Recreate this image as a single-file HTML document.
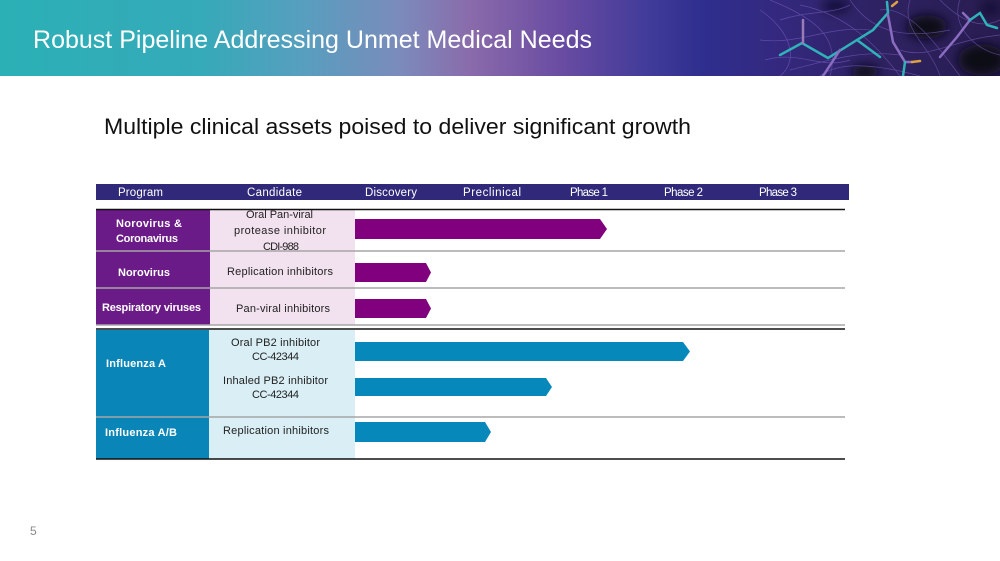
<!DOCTYPE html>
<html>
<head>
<meta charset="utf-8">
<style>
html,body{margin:0;padding:0;background:#fff;}
svg{display:block;}
text{font-family:"Liberation Sans",Arial,sans-serif;}
</style>
</head>
<body>
<svg width="1000" height="561" viewBox="0 0 1000 561" xmlns="http://www.w3.org/2000/svg">
  <defs>
    <linearGradient id="ban" x1="0" y1="0" x2="1000" y2="0" gradientUnits="userSpaceOnUse">
      <stop offset="0" stop-color="#2bb0b6"/>
      <stop offset="0.2" stop-color="#35aab8"/>
      <stop offset="0.3" stop-color="#569fbe"/>
      <stop offset="0.4" stop-color="#7b8bbb"/>
      <stop offset="0.47" stop-color="#8a6bab"/>
      <stop offset="0.56" stop-color="#6a4ca2"/>
      <stop offset="0.65" stop-color="#403b99"/>
      <stop offset="0.7" stop-color="#2f2f8f"/>
      <stop offset="0.78" stop-color="#34287e"/>
      <stop offset="0.88" stop-color="#2e2262"/>
      <stop offset="1" stop-color="#281c50"/>
    </linearGradient>
    <filter id="blur" x="-50%" y="-50%" width="200%" height="200%">
      <feGaussianBlur stdDeviation="5"/>
    </filter>
    <clipPath id="bc"><rect x="0" y="0" width="1000" height="76"/></clipPath>
  </defs>

  <!-- Banner -->
  <rect x="0" y="0" width="1000" height="76" fill="url(#ban)"/>
  <g clip-path="url(#bc)">
    <g filter="url(#blur)" fill="#0a0814">
      <ellipse cx="927" cy="27" rx="20" ry="12"/>
      <ellipse cx="982" cy="60" rx="24" ry="16"/>
      <ellipse cx="865" cy="72" rx="14" ry="7"/>
      <ellipse cx="836" cy="6" rx="14" ry="7" opacity="0.6"/>
      <ellipse cx="990" cy="8" rx="10" ry="7" opacity="0.5"/>
    </g>
    <g fill="none" stroke="#7d62c4" stroke-width="0.7" opacity="0.6">
      <path d="M760 10 C790 30 800 60 780 76"/>
      <path d="M770 0 C820 20 840 40 830 76"/>
      <path d="M800 5 C850 15 880 50 900 76"/>
      <path d="M850 0 C870 30 900 40 950 30"/>
      <path d="M880 10 C910 5 940 50 960 76"/>
      <path d="M900 50 C930 60 950 40 1000 35"/>
      <path d="M760 40 C800 45 830 25 870 30"/>
      <path d="M790 70 C830 60 860 50 900 55"/>
      <path d="M940 0 C960 20 980 30 1000 20"/>
      <path d="M820 76 C840 60 880 65 920 76"/>
      <path d="M765 60 C800 50 820 70 850 60"/>
      <path d="M910 0 C900 30 930 45 940 76"/>
      <path d="M960 0 C950 25 975 50 1000 55"/>
      <path d="M780 20 C810 10 830 15 850 5"/>
    </g>
    <g fill="none" stroke-width="2.5" stroke-linecap="round">
      <path d="M780 55 L802 43 L828 58 L857 40 L880 57" stroke="#2fb3b8"/>
      <path d="M803 43 L803 20" stroke="#9a7bb8"/>
      <path d="M857 40 L873 30 L888 13 L887 2" stroke="#2fb3b8"/>
      <path d="M888 15 L893 42 L905 62 L912 62" stroke="#8a6cc0"/>
      <path d="M905 62 L903 76" stroke="#2fb3b8"/>
      <path d="M892 6 L897 2" stroke="#e0a040"/>
      <path d="M912 62 L920 61" stroke="#e0a040"/>
      <path d="M940 57 L957 37 L970 20 L963 13" stroke="#8a6cc0"/>
      <path d="M970 20 L980 13 L987 25 L997 28" stroke="#2fb3b8"/>
      <path d="M823 76 L840 50" stroke="#8a6cc0"/>
    </g>
  </g>
  <text x="33" y="48" font-size="25" fill="#ffffff" textLength="559" lengthAdjust="spacingAndGlyphs">Robust Pipeline Addressing Unmet Medical Needs</text>

  <!-- Subtitle -->
  <text x="104" y="134" font-size="22" fill="#111" textLength="587" lengthAdjust="spacingAndGlyphs">Multiple clinical assets poised to deliver significant growth</text>

  <!-- Header bar -->
  <rect x="96" y="184" width="753" height="16" fill="#30297a"/>
  <g font-size="11.5" fill="#ffffff">
    <text x="118" y="196" textLength="45" lengthAdjust="spacing">Program</text>
    <text x="247" y="196" textLength="55" lengthAdjust="spacing">Candidate</text>
    <text x="365" y="196" textLength="52" lengthAdjust="spacing">Discovery</text>
    <text x="463" y="196" textLength="58" lengthAdjust="spacing">Preclinical</text>
    <text x="570" y="196" textLength="38" lengthAdjust="spacing">Phase 1</text>
    <text x="664" y="196" textLength="39" lengthAdjust="spacing">Phase 2</text>
    <text x="759" y="196" textLength="38" lengthAdjust="spacing">Phase 3</text>
  </g>

  <!-- Purple section -->
  <rect x="96" y="209" width="114" height="116" fill="#6b1b87"/>
  <rect x="210" y="209" width="145" height="116" fill="#f2e1ef"/>

  <!-- Blue section -->
  <rect x="96" y="330" width="113" height="129" fill="#0a85b7"/>
  <rect x="209" y="330" width="146" height="129" fill="#d9eef5"/>

  <!-- Lines -->
  <g stroke-width="1.5">
    <line x1="96" y1="209.5" x2="845" y2="209.5" stroke="#111"/>
    <line x1="96" y1="251" x2="845" y2="251" stroke="#a6a6a6"/>
    <line x1="96" y1="288" x2="845" y2="288" stroke="#a6a6a6"/>
    <line x1="96" y1="325" x2="845" y2="325" stroke="#a6a6a6"/>
    <line x1="96" y1="329" x2="845" y2="329" stroke="#111"/>
    <line x1="96" y1="417" x2="845" y2="417" stroke="#a6a6a6"/>
    <line x1="96" y1="459" x2="845" y2="459" stroke="#111"/>
  </g>

  <!-- Purple bars -->
  <g fill="#81007d">
    <polygon points="355,219 600,219 607,229 600,239 355,239"/>
    <polygon points="355,263 426,263 431,272.5 426,282 355,282"/>
    <polygon points="355,299 426,299 431,308.5 426,318 355,318"/>
  </g>
  <!-- Blue bars -->
  <g fill="#0788bb">
    <polygon points="355,342 683,342 690,351.5 683,361 355,361"/>
    <polygon points="355,378 546,378 552,387 546,396 355,396"/>
    <polygon points="355,422 485,422 491,432 485,442 355,442"/>
  </g>

  <!-- Program labels -->
  <g font-size="11" font-weight="bold" fill="#ffffff">
    <text x="116" y="227" textLength="66" lengthAdjust="spacing">Norovirus &amp;</text>
    <text x="116" y="242" textLength="62" lengthAdjust="spacing">Coronavirus</text>
    <text x="118" y="276" textLength="52" lengthAdjust="spacing">Norovirus</text>
    <text x="102" y="311" textLength="99" lengthAdjust="spacing">Respiratory viruses</text>
    <text x="106" y="367" textLength="60" lengthAdjust="spacing">Influenza  A</text>
    <text x="105" y="436" textLength="72" lengthAdjust="spacing">Influenza  A/B</text>
  </g>

  <!-- Candidate labels -->
  <g font-size="11" fill="#222">
    <text x="246" y="218" textLength="67" lengthAdjust="spacing">Oral Pan-viral</text>
    <text x="234" y="234" textLength="92" lengthAdjust="spacing">protease inhibitor</text>
    <text x="263" y="250" textLength="36" lengthAdjust="spacing">CDI-988</text>
    <text x="227" y="275" textLength="106" lengthAdjust="spacing">Replication inhibitors</text>
    <text x="236" y="312" textLength="94" lengthAdjust="spacing">Pan-viral inhibitors</text>
    <text x="231" y="346" textLength="89" lengthAdjust="spacing">Oral PB2 inhibitor</text>
    <text x="252" y="360" textLength="47" lengthAdjust="spacing">CC-42344</text>
    <text x="223" y="384" textLength="105" lengthAdjust="spacing">Inhaled PB2 inhibitor</text>
    <text x="252" y="398" textLength="47" lengthAdjust="spacing">CC-42344</text>
    <text x="223" y="434" textLength="106" lengthAdjust="spacing">Replication inhibitors</text>
  </g>

  <!-- Page number -->
  <text x="30" y="535" font-size="12" fill="#8a8a8a">5</text>
</svg>
</body>
</html>
